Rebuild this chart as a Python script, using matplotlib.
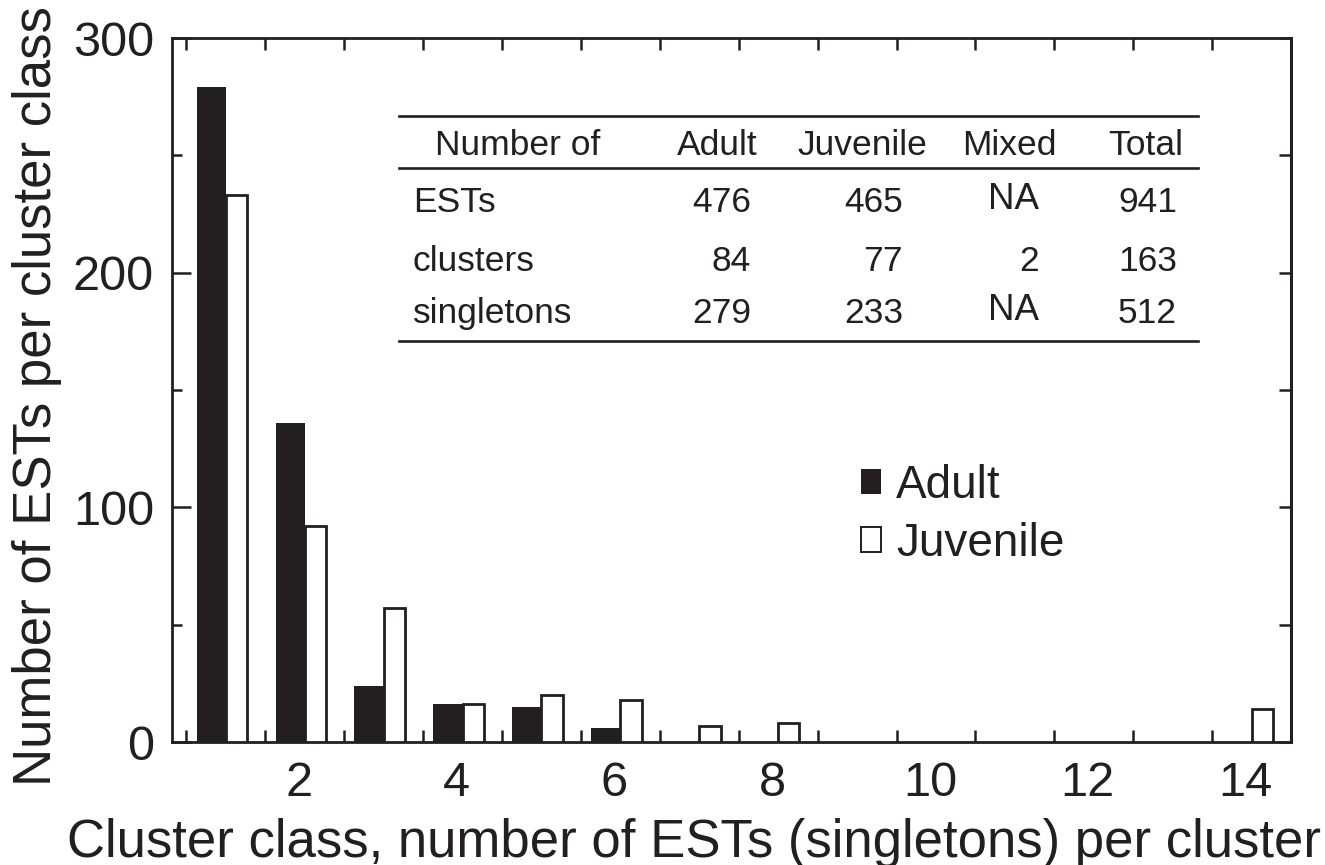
import matplotlib
matplotlib.use("Agg")
import matplotlib.pyplot as plt
from matplotlib.patches import Patch
from matplotlib.lines import Line2D
from matplotlib.transforms import ScaledTranslation
import numpy as np

# ---- data ----
cluster_class = [1, 2, 3, 4, 5, 6, 7, 8, 14]
adult = [279, 136, 24, 16, 15, 6, 0, 0, 0]
juvenile = [233, 92, 57, 16, 20, 18, 7, 8, 14]
xtick_values = [2, 4, 6, 8, 10, 12, 14]
ytick_values = [0, 100, 200, 300]

table_header = ["Number of", "Adult", "Juvenile", "Mixed", "Total"]
table_row_labels = ["ESTs", "clusters", "singletons"]
table_adult = ["476", "84", "279"]
table_juvenile = ["465", "77", "233"]
table_mixed = ["NA", "2", "NA"]
table_total = ["941", "163", "512"]

DARK = "#231f20"
plt.rcParams["font.family"] = ["Liberation Sans", "DejaVu Sans"]

W, H = 1325, 865
fig = plt.figure(figsize=(W / 100, H / 100), dpi=100)
L, R, T, B = 172, 1291, 38, 742
ax = fig.add_axes([L / W, (H - B) / H, (R - L) / W, (B - T) / H])

x = np.array(cluster_class, dtype=float)
ax.bar(x, adult, width=-0.37, align="edge", color=DARK, edgecolor="none", zorder=2)
ax.bar(x, juvenile, width=0.27, align="edge", facecolor="white", edgecolor=DARK,
       linewidth=2.0, zorder=3)

ax.set_xlim(0.317, 14.5)
ax.set_ylim(0, 300)

for s in ax.spines.values():
    s.set_linewidth(2.0)
    s.set_color(DARK)

# x axis: labels at even classes, tick marks between classes
ax.set_xticks(xtick_values)
ax.set_xticklabels([str(v) for v in xtick_values])
ax.set_xticks(np.arange(0.5, 14.5, 1.0), minor=True)
ax.tick_params(axis="x", which="major", length=0, labelsize=35, pad=14, colors=DARK)
ax.tick_params(axis="x", which="minor", direction="in", length=8.5, width=1.8,
               bottom=True, top=True, color=DARK)
for lab in ax.get_xticklabels():
    lab.set_transform(lab.get_transform() + ScaledTranslation(-6 / 100, 0, fig.dpi_scale_trans))

# y axis
ax.set_yticks(ytick_values)
ax.set_yticks(np.arange(0, 301, 50), minor=True)
ax.tick_params(axis="y", which="major", direction="in", length=13.7, width=1.8,
               labelsize=35, pad=13, colors=DARK)
ax.tick_params(axis="y", which="minor", direction="in", length=7.2, width=1.8, color=DARK)

sec = ax.secondary_yaxis("right")
sec.set_yticks(np.arange(0, 301, 50))
sec.tick_params(axis="y", direction="in", length=8.5, width=1.8, labelright=False, color=DARK)
sec.spines["right"].set_linewidth(2.0)

ax.set_xlabel("Cluster class, number of ESTs (singletons) per cluster", fontsize=38,
              color=DARK, labelpad=8)
ax.xaxis.label.set_x((694 - L) / (R - L))
ax.set_ylabel("Number of ESTs per cluster class", fontsize=38, color=DARK, labelpad=8)
ax.yaxis.label.set_y((B - 396) / (B - T))

# legend
handles = [Patch(facecolor=DARK, edgecolor=DARK, linewidth=0),
           Patch(facecolor="white", edgecolor=DARK, linewidth=1.4)]
leg = ax.legend(handles, ["Adult", "Juvenile"], loc="upper left",
                bbox_to_anchor=(861 / W, 1 - 464 / H), bbox_transform=fig.transFigure,
                frameon=False, fontsize=33, handlelength=0.44, handleheight=0.44,
                handletextpad=0.33, labelspacing=0.3, borderpad=0, borderaxespad=0)
for t in leg.get_texts():
    t.set_color(DARK)

# inset table
def fx(px):
    return px / W

def fy(py):
    return 1 - py / H

for ly in (116, 168, 341):
    fig.add_artist(Line2D([fx(399), fx(1198)], [fy(ly), fy(ly)], color=DARK, lw=1.9))

TFS = 25.5
hdr_y = 155
fig.text(fx(435), fy(hdr_y), table_header[0], ha="left", va="baseline", fontsize=TFS, color=DARK)
fig.text(fx(758), fy(hdr_y), table_header[1], ha="right", va="baseline", fontsize=TFS, color=DARK)
fig.text(fx(927), fy(hdr_y), table_header[2], ha="right", va="baseline", fontsize=TFS, color=DARK)
fig.text(fx(1057), fy(hdr_y), table_header[3], ha="right", va="baseline", fontsize=TFS, color=DARK)
fig.text(fx(1183), fy(hdr_y), table_header[4], ha="right", va="baseline", fontsize=TFS, color=DARK)

row_y = [212, 271, 323]
for i, yy in enumerate(row_y):
    fig.text(fx(413), fy(yy), table_row_labels[i], ha="left", va="baseline", fontsize=TFS, color=DARK)
    fig.text(fx(751), fy(yy), table_adult[i], ha="right", va="baseline", fontsize=TFS, color=DARK)
    fig.text(fx(903), fy(yy), table_juvenile[i], ha="right", va="baseline", fontsize=TFS, color=DARK)
    if table_mixed[i] == "NA":
        fig.text(fx(1039), fy(yy - 3), table_mixed[i], ha="right", va="baseline",
                 fontsize=TFS + 1, color=DARK)
    else:
        fig.text(fx(1039), fy(yy), table_mixed[i], ha="right", va="baseline", fontsize=TFS, color=DARK)
    fig.text(fx(1177), fy(yy), table_total[i], ha="right", va="baseline", fontsize=TFS, color=DARK)

fig.savefig("out.png", dpi=100, facecolor="white")
